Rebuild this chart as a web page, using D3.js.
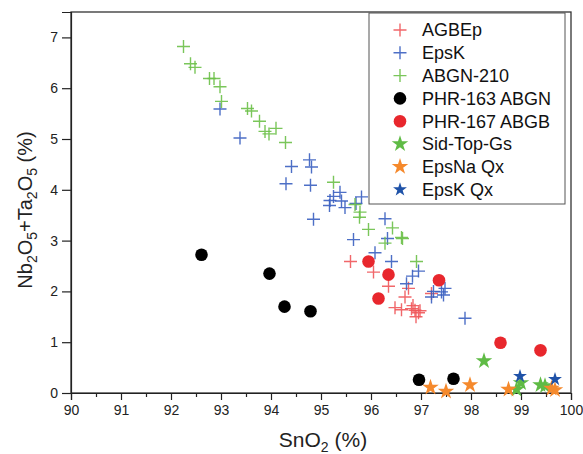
<!DOCTYPE html>
<html><head><meta charset="utf-8">
<script src="https://cdn.jsdelivr.net/npm/d3@7"></script>
<style>body{margin:0;background:#fff}</style>
</head><body>
<svg id="c" width="583" height="454"></svg>
<script>
const xTicks = [90,91,92,93,94,95,96,97,98,99,100];
const yTicks = [0,1,2,3,4,5,6,7];

const agbep = [[95.59,2.59],[96.05,2.38],[96.35,2.10],[96.68,1.89],[96.75,2.06],[96.48,1.68],[96.61,1.64],[96.81,1.66],[96.88,1.63],[96.98,1.62],[96.90,1.50],[97.21,1.96],[96.84,1.72],[96.95,1.58]];
const epsk = [[92.98,5.59],[93.38,5.02],[94.41,4.46],[94.77,4.59],[94.81,4.45],[94.30,4.12],[94.79,4.09],[95.38,3.95],[95.25,3.87],[95.18,3.79],[95.17,3.69],[95.41,3.78],[95.48,3.65],[95.70,3.73],[95.81,3.86],[94.85,3.42],[96.28,3.43],[95.65,3.02],[96.33,3.04],[96.08,2.76],[96.41,2.59],[96.95,2.40],[96.83,2.30],[96.71,2.15],[97.25,2.00],[97.21,1.89],[97.41,1.99],[97.48,2.06],[97.45,1.93],[97.88,1.47]];
const abgn210 = [[92.25,6.82],[92.39,6.48],[92.48,6.41],[92.77,6.19],[92.86,6.19],[92.98,6.03],[93.01,5.74],[93.53,5.60],[93.61,5.55],[93.77,5.35],[93.88,5.15],[93.96,5.10],[94.10,5.21],[94.29,4.93],[95.25,4.15],[95.68,3.71],[95.78,3.56],[95.77,3.46],[95.95,3.22],[96.43,3.25],[96.63,3.04],[96.28,2.95],[96.61,3.06],[96.91,2.59]];
const phr163 = [[92.61,2.72],[93.97,2.35],[94.27,1.70],[94.79,1.61],[96.96,0.26],[97.65,0.28]];
const phr167 = [[95.95,2.59],[96.35,2.33],[96.15,1.86],[97.36,2.22],[98.59,0.99],[99.39,0.84]];
const sidTop = [[98.26,0.63],[98.91,0.07],[99.00,0.20],[99.39,0.16],[99.48,0.14]];
const epsNaQx = [[97.19,0.11],[97.50,0.03],[97.98,0.16],[98.75,0.07],[99.61,0.09],[99.68,0.06]];
const epsKQx = [[98.98,0.33],[99.68,0.27]];

const seriesNames = ["AGBEp","EpsK","ABGN-210","PHR-163 ABGN","PHR-167 ABGB","Sid-Top-Gs","EpsNa Qx","EpsK Qx"];
const seriesData = [agbep, epsk, abgn210, phr163, phr167, sidTop, epsNaQx, epsKQx];
const seriesColor = ["#f0575a","#3a5fc0","#6cc048","#000000","#e8272d","#5fbb45","#f5892c","#1f52a8"];
const seriesShape = ["cross","cross","cross","circle","circle","star","star","starS"];

const svg = d3.select("#c");
const L = 71, R = 571, T = 12, B = 393;
const x = d3.scaleLinear().domain([90,100]).range([L,R]);
const y = d3.scaleLinear().domain([0,7.5]).range([B,T]);
const font = "'Liberation Sans', Arial, sans-serif";

// frame
svg.append("rect").attr("x",L).attr("y",T).attr("width",R-L).attr("height",B-T)
  .attr("fill","none").attr("stroke","#333").attr("stroke-width",1.3);

// x axis
const xa = svg.append("g").attr("transform",`translate(0,${B})`)
  .call(d3.axisBottom(x).tickValues(xTicks).tickFormat(d3.format("d")).tickSize(7).tickPadding(5));
const xm = svg.append("g").attr("transform",`translate(0,${B})`)
  .call(d3.axisBottom(x).tickValues(d3.range(90.5,100,1)).tickFormat("").tickSize(4));
xm.select(".domain").remove();
// y axis
const ya = svg.append("g").attr("transform",`translate(${L},0)`)
  .call(d3.axisLeft(y).tickValues(yTicks).tickFormat(d3.format("d")).tickSize(9).tickPadding(4));
[xa,xm,ya].forEach(g=>{
  g.selectAll("path,line").attr("stroke","#222").attr("stroke-width",1.2);
  g.selectAll("text").attr("font-family",font).attr("font-size",14).attr("fill","#222");
});

// marks
const crossPath = (s)=>`M${-s},0H${s}M0,${-s}V${s}`;
function drawMark(sel, shape, color){
  if(shape==="cross"){
    sel.append("path").attr("d",crossPath(6.5)).attr("stroke",color).attr("stroke-width",1.4).attr("fill","none").attr("opacity",0.9);
  } else if(shape==="circle"){
    sel.append("circle").attr("r",6.3).attr("fill",color);
  } else {
    sel.append("path").attr("d",d3.symbol(d3.symbolStar, shape==="starS"?60:85)()).attr("fill",color);
  }
}
const order = [0,1,2,5,6,7,3,4];
order.forEach(i=>{
  const g = svg.append("g");
  seriesData[i].forEach(p=>{
    const m = g.append("g").attr("transform",`translate(${x(p[0])},${y(p[1])})`);
    drawMark(m, seriesShape[i], seriesColor[i]);
  });
});

// legend
const lg = svg.append("g");
lg.append("rect").attr("x",369).attr("y",13).attr("width",196).attr("height",191)
  .attr("fill","#fff").attr("stroke","#555").attr("stroke-width",1);
seriesNames.forEach((n,i)=>{
  const cy = 30 + i*22.8;
  const m = lg.append("g").attr("transform",`translate(400,${cy})`);
  drawMark(m, seriesShape[i], seriesColor[i]);
  lg.append("text").attr("x",422).attr("y",cy).attr("dy","0.36em")
    .attr("font-family",font).attr("font-size",18).attr("fill","#111").text(n);
});

// axis titles
const xt = svg.append("text").attr("x",323).attr("y",447).attr("text-anchor","middle")
  .attr("font-family",font).attr("font-size",21).attr("fill","#222");
xt.append("tspan").text("SnO");
xt.append("tspan").attr("font-size",14).attr("dy",5).text("2");
xt.append("tspan").attr("dy",-5).text(" (%)");

const yt = svg.append("text").attr("transform","translate(32,210) rotate(-90)").attr("text-anchor","middle")
  .attr("font-family",font).attr("font-size",20).attr("fill","#222");
const parts = [["Nb",0],["2",1],["O",0],["5",1],["+Ta",0],["2",1],["O",0],["5",1],[" (%)",0]];
let prev = 0;
parts.forEach(([t,sub])=>{
  const dy = (sub?5:0) - prev; prev = sub?5:0;
  yt.append("tspan").attr("dy",dy).attr("font-size",sub?14:20).text(t);
});
</script>
</body></html>
